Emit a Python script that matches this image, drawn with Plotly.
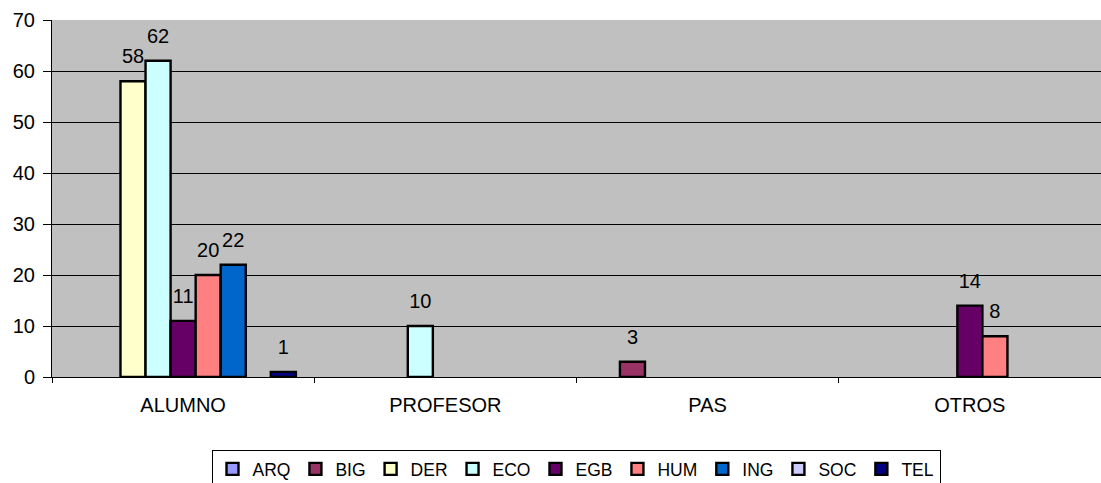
import plotly.graph_objects as go

categories = ["ALUMNO", "PROFESOR", "PAS", "OTROS"]
series_names = ["ARQ", "BIG", "DER", "ECO", "EGB", "HUM", "ING", "SOC", "TEL"]
arq = [0, 0, 0, 0]
big = [0, 0, 3, 0]
der = [58, 0, 0, 0]
eco = [62, 10, 0, 0]
egb = [11, 0, 0, 14]
hum = [20, 0, 0, 8]
ing = [22, 0, 0, 0]
soc = [0, 0, 0, 0]
tel = [1, 0, 0, 0]
colors = ["#9999FF", "#993366", "#FFFFCC", "#CCFFFF", "#660066",
          "#FF8080", "#0066CC", "#CCCCFF", "#000080"]

all_values = [arq, big, der, eco, egb, hum, ing, soc, tel]
font_family = "Liberation Sans, Arial, sans-serif"
fsize = 20

fig = go.Figure()
for name, vals, col in zip(series_names, all_values, colors):
    yv = [v if v != 0 else None for v in vals]
    txt = [f"<span style='font-size:{fsize}px'>{v}</span><br>&nbsp;" if v != 0 else ""
           for v in vals]
    fig.add_trace(go.Bar(
        name=name, x=categories, y=yv, text=txt,
        textposition="outside", cliponaxis=False, constraintext="none",
        textfont=dict(family=font_family, size=10, color="black"),
        marker=dict(color=col, line=dict(color="black", width=2.4)),
    ))

fig.update_layout(
    width=1101, height=483,
    margin=dict(l=52, r=0, t=20, b=106),
    paper_bgcolor="white", plot_bgcolor="#C0C0C0",
    barmode="group", bargap=0.14, bargroupgap=0,
    font=dict(family=font_family, size=fsize, color="black"),
    showlegend=True,
    legend=dict(orientation="h", xref="container", yref="container",
                x=576 / 1101, xanchor="center", y=1 - 450 / 483, yanchor="top",
                bordercolor="black", borderwidth=1, bgcolor="white",
                font=dict(family=font_family, size=17.5), itemwidth=30,
                tracegroupgap=0),
)
fig.update_yaxes(range=[0, 70], dtick=10, showgrid=True, gridcolor="black", gridwidth=1,
                 showline=True, linecolor="black", linewidth=1, automargin=False,
                 ticks="outside", ticklen=8, tickcolor="black", zeroline=False,
                 ticklabelstandoff=4,
                 tickfont=dict(family=font_family, size=fsize))
fig.update_xaxes(showline=True, linecolor="black", linewidth=1, ticks="outside",
                 ticklen=5, tickcolor="black", tickson="boundaries", automargin=False,
                 ticklabelstandoff=10,
                 tickfont=dict(family=font_family, size=fsize))

fig.write_html("out.html", config={"displayModeBar": False},
               post_script="document.body.style.margin='0';document.body.style.overflow='hidden';")
